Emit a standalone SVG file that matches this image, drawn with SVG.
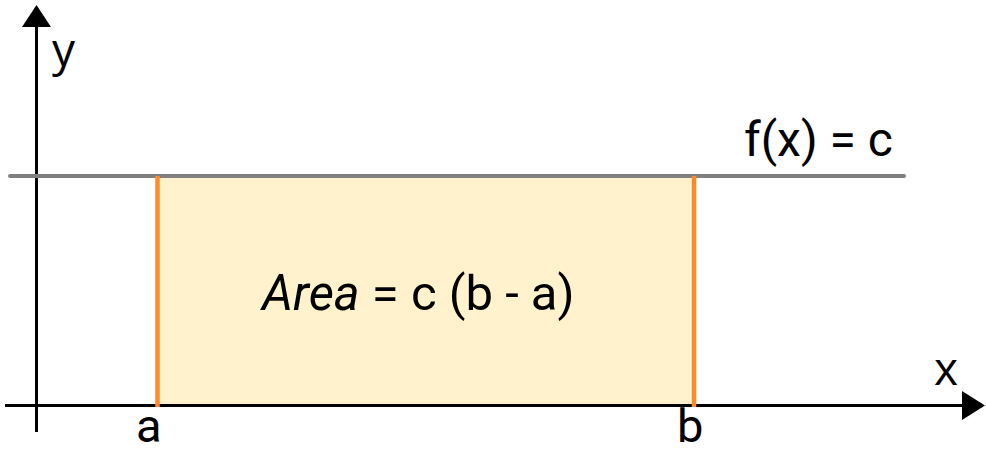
<svg xmlns="http://www.w3.org/2000/svg" width="986" height="449" viewBox="0 0 986 449">
<style>
.t{font-family:Roboto,"Liberation Sans",sans-serif;font-size:47px;fill:#000}
.ax{font-family:"Open Sans","Noto Sans",sans-serif;font-size:46px;fill:#000}
.axis{stroke:#000;stroke-width:3;fill:none}
.edge{stroke:#FF8A2B;stroke-width:4.5;fill:none}
</style>
<rect x="157" y="176" width="537" height="229" fill="#FFF2CC"/>
<g id="connectors">
<line class="axis" x1="5" y1="405.5" x2="963" y2="405.5"/>
<polygon points="962,391 985,405.5 962,420" fill="#000"/>
<line class="axis" x1="36.5" y1="432" x2="36.5" y2="26"/>
<polygon points="22,27 36.5,5 51,27" fill="#000"/>
<line x1="10" y1="176" x2="904" y2="176" stroke="#808080" stroke-width="4" stroke-linecap="round"/>
<line class="edge" x1="157.5" y1="176" x2="157.5" y2="407"/>
<line class="edge" x1="694" y1="176" x2="694" y2="407"/>
</g>
<g id="labels">
<text class="ax" x="52" y="66">y</text>
<text class="ax" x="934" y="385">x</text>
<text class="t" x="744" y="156" style="font-size:48px">f(x) = c</text>
<text class="t" x="262" y="310" style="font-size:49px"><tspan font-style="italic">Area</tspan> = c (b - a)</text>
<text class="t" x="136" y="442">a</text>
<text class="t" x="677" y="442">b</text>
</g>
</svg>
